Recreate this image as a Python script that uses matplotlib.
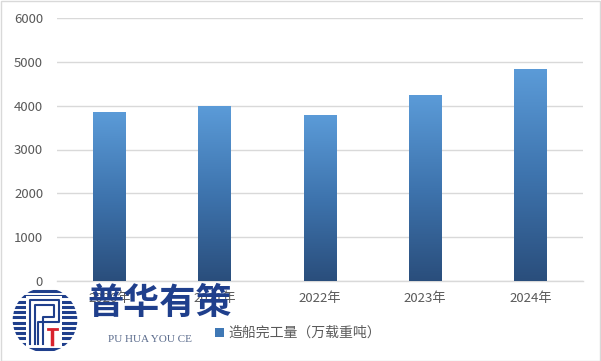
import numpy as np
import matplotlib
matplotlib.use("Agg")
import matplotlib.pyplot as plt
from matplotlib.colors import LinearSegmentedColormap
from matplotlib.patches import Rectangle, Circle

plt.rcParams['font.family'] = ['Noto Sans CJK SC', 'DejaVu Sans']

years = ["2020年", "2021年", "2022年", "2023年", "2024年"]
values = [3853, 3970, 3786, 4232, 4818]
yticks = [0, 1000, 2000, 3000, 4000, 5000, 6000]
legend_label = "造船完工量（万载重吨）"

W, H = 601, 361
fig = plt.figure(figsize=(W / 100, H / 100), dpi=100)
fig.patch.set_facecolor("white")
ax = fig.add_axes([57 / W, 1 - 281 / H, (583 - 57) / W, (281 - 18) / H])

cmap = LinearSegmentedColormap.from_list("g", ["#2A4E7C", "#3E74AE", "#5B9BD8"])
x = np.arange(len(years))
bars = ax.bar(x, values, width=0.31, color="none", edgecolor="none", zorder=3)
grad = np.linspace(0, 1, 256).reshape(-1, 1)
for b in bars:
    x0, w, h = b.get_x(), b.get_width(), b.get_height()
    ax.imshow(grad, extent=[x0, x0 + w, 0, h], origin="lower", cmap=cmap,
              aspect="auto", zorder=3)

ax.set_xlim(-0.5, len(years) - 0.5)
ax.set_ylim(0, 6000)
ax.set_yticks(yticks)
ax.set_yticklabels([str(v) for v in yticks])
ax.set_xticks(x)
ax.set_xticklabels(years)
ax.yaxis.grid(True, color="#D9D9D9", linewidth=1, zorder=0)
ax.set_axisbelow(True)
for s in ["top", "right", "left"]:
    ax.spines[s].set_visible(False)
ax.spines["bottom"].set_color("#D9D9D9")
ax.spines["bottom"].set_linewidth(1)
ax.tick_params(axis="both", length=0, labelsize=9.5, labelcolor="#595959")
ax.tick_params(axis="y", pad=10)
ax.tick_params(axis="x", pad=8)
ax.set_facecolor("white")

handle = Rectangle((0, 0), 1, 1, facecolor="#3F78B5")
fig.legend([handle], [legend_label], loc="center", bbox_to_anchor=(298 / W, 1 - 333 / H),
           frameon=False, fontsize=10, labelcolor="#595959", handlelength=0.6,
           handleheight=0.6, handletextpad=0.3)

# watermark logo
lax = fig.add_axes([(45 - 34) / W, 1 - (320 + 34) / H, 68 / W, 68 / H])
lax.set_xlim(-1, 1)
lax.set_ylim(-1, 1)
lax.set_aspect("equal")
lax.axis("off")
clip = Circle((0, 0), 0.95, transform=lax.transData)
for yy in np.linspace(-0.85, 0.85, 12):
    ln, = lax.plot([-1, 1], [yy, yy], color="#1F3F8C", lw=2.2, solid_capstyle="butt")
    ln.set_clip_path(clip)
lax.add_patch(Rectangle((-0.55, -0.8), 1.05, 1.5, facecolor="white", edgecolor="none", zorder=3))
lax.plot([-0.45, -0.45, 0.4, 0.4, -0.2, -0.2], [-0.7, 0.6, 0.6, -0.05, -0.05, -0.7],
         color="#1F3F8C", lw=1.5, zorder=4)
lax.plot([-0.3, -0.3, 0.25, 0.25, -0.05, -0.05], [-0.7, 0.45, 0.45, 0.1, 0.1, -0.7],
         color="#1F3F8C", lw=1.5, zorder=4)
lax.plot([0.2, 0.2], [-0.7, -0.3], color="#D9232D", lw=2.5, zorder=4)
lax.plot([0.1, 0.35], [-0.25, -0.25], color="#D9232D", lw=2, zorder=4)

fig.text(87 / W, 1 - 303 / H, "普华有策", fontsize=26, fontweight="bold",
         color="#1F3F8C", va="center", ha="left")
fig.text(150 / W, 1 - 339 / H, "PU HUA YOU CE", fontsize=8, family="Liberation Serif",
         color="#5A6B8C", va="center", ha="center")

fig.add_artist(Rectangle((0.5 / W, 0.5 / H), 1 - 1.5 / W, 1 - 1.5 / H,
                         transform=fig.transFigure, fill=False, edgecolor="#D9D9D9", lw=1))

fig.savefig("out.png", dpi=100)
